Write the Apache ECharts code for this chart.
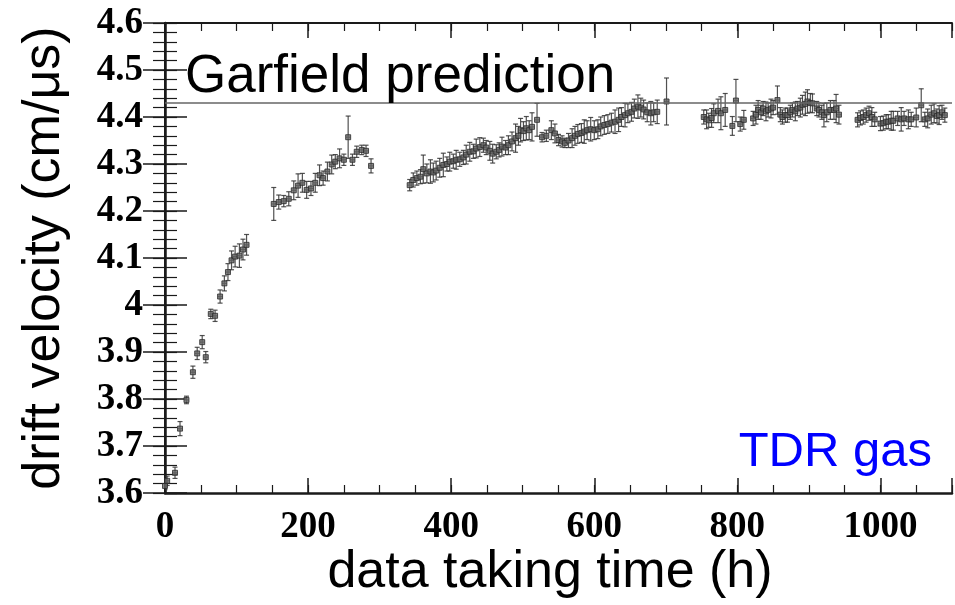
<!DOCTYPE html>
<html>
<head>
<meta charset="utf-8">
<script src="https://cdn.jsdelivr.net/npm/echarts@6/dist/echarts.min.js"></script>
<style>html,body{margin:0;padding:0;background:#fff}#chart{width:955px;height:605px}</style>
</head>
<body>
<div id="chart"></div>
<script>
// ---- data ----
const timeH = [
  0, 3, 14, 21, 30, 39, 45, 52, 57, 64, 70, 77, 83, 88, 93, 98, 104, 109, 114,
  152, 159, 166, 173, 180, 186, 192, 198, 204, 210, 216, 221, 227, 233, 238, 244, 250, 256, 262, 268, 275, 281, 288,
  342, 347, 352, 357, 361, 366, 371, 375, 379, 384, 389, 394, 398, 403, 407, 412, 417, 421, 426, 431, 435, 440, 445, 449,
  454, 458, 463, 467, 471, 476, 480, 485, 490, 494, 497, 501, 505, 509, 513, 520, 527, 533, 540, 545, 550, 555, 559, 564,
  569, 573, 577, 582, 586, 590, 595, 600, 605, 609, 614, 619, 624, 629, 634, 638, 643, 647, 652, 656, 661, 665, 669, 674,
  679, 683, 688, 701,
  753, 757, 760, 764, 767, 773, 777, 783, 793, 798, 804, 809, 822, 826, 829, 833, 836, 840, 843, 847, 850, 856, 860, 863,
  867, 870, 874, 877, 881, 884, 888, 891, 895, 898, 902, 905, 911, 914, 918, 921, 925, 930, 935, 938, 942,
  968, 972, 976, 980, 984, 988, 992, 1000, 1004, 1008, 1011, 1015, 1018, 1024, 1029, 1033, 1039, 1043, 1050, 1057, 1062,
  1066, 1071, 1075, 1079, 1082, 1086, 1090
];
const velocity = [
  3.615, 3.626, 3.643, 3.737, 3.798, 3.857, 3.897, 3.921, 3.889, 3.981, 3.977, 4.018, 4.046, 4.07, 4.095, 4.103, 4.105, 4.118, 4.128,
  4.215, 4.219, 4.221, 4.226, 4.244, 4.254, 4.26, 4.245, 4.248, 4.26, 4.276, 4.27, 4.284, 4.299, 4.305, 4.312, 4.309, 4.357, 4.309, 4.326, 4.33, 4.328, 4.296,
  4.255, 4.266, 4.27, 4.273, 4.289, 4.28, 4.284, 4.282, 4.286, 4.292, 4.298, 4.3, 4.305, 4.306, 4.309, 4.31, 4.314, 4.32, 4.326, 4.327, 4.333, 4.336, 4.34, 4.335,
  4.328, 4.322, 4.326, 4.33, 4.337, 4.335, 4.34, 4.348, 4.355, 4.36, 4.372, 4.37, 4.376, 4.372, 4.379, 4.394, 4.357, 4.36, 4.372, 4.365, 4.351, 4.348, 4.345, 4.35,
  4.355, 4.36, 4.364, 4.366, 4.369, 4.372, 4.374, 4.372, 4.374, 4.38, 4.383, 4.385, 4.388, 4.39, 4.394, 4.4, 4.404, 4.408, 4.411, 4.418, 4.422, 4.42, 4.416, 4.41,
  4.408, 4.41, 4.411, 4.433,
  4.4, 4.395, 4.393, 4.398, 4.408, 4.413, 4.408, 4.415, 4.381, 4.435, 4.385, 4.394, 4.397, 4.405, 4.415, 4.41, 4.418, 4.412, 4.415, 4.418, 4.42, 4.436, 4.405, 4.4,
  4.404, 4.404, 4.41, 4.415, 4.412, 4.418, 4.42, 4.426, 4.428, 4.433, 4.43, 4.429, 4.418, 4.415, 4.41, 4.404, 4.41, 4.415, 4.415, 4.418, 4.405,
  4.394, 4.398, 4.4, 4.404, 4.408, 4.4, 4.395, 4.386, 4.387, 4.39, 4.39, 4.392, 4.392, 4.397, 4.395, 4.397, 4.395, 4.395, 4.399, 4.425, 4.395,
  4.397, 4.405, 4.408, 4.402, 4.404, 4.41, 4.404
];
const velErr = [
  0.008, 0.01, 0.012, 0.015, 0.008, 0.013, 0.013, 0.014, 0.012, 0.01, 0.012, 0.014, 0.016, 0.018, 0.02, 0.022, 0.025, 0.022, 0.022,
  0.035, 0.015, 0.012, 0.015, 0.02, 0.025, 0.02, 0.018, 0.015, 0.02, 0.022, 0.015, 0.02, 0.02, 0.015, 0.02, 0.012, 0.045, 0.012, 0.012, 0.01, 0.012, 0.015,
  0.012, 0.015, 0.015, 0.015, 0.03, 0.02, 0.025, 0.02, 0.02, 0.02, 0.025, 0.015, 0.02, 0.015, 0.02, 0.015, 0.015, 0.02, 0.02, 0.015, 0.02, 0.02, 0.015, 0.015,
  0.02, 0.02, 0.015, 0.015, 0.02, 0.015, 0.02, 0.02, 0.03, 0.02, 0.025, 0.02, 0.025, 0.02, 0.03, 0.035, 0.01, 0.012, 0.02, 0.02, 0.012, 0.012, 0.01, 0.015,
  0.02, 0.02, 0.02, 0.02, 0.025, 0.02, 0.025, 0.02, 0.02, 0.02, 0.02, 0.02, 0.02, 0.025, 0.025, 0.02, 0.025, 0.02, 0.02, 0.02, 0.025, 0.02, 0.02, 0.02,
  0.025, 0.02, 0.025, 0.05,
  0.015, 0.02, 0.015, 0.02, 0.02, 0.025, 0.035, 0.035, 0.02, 0.045, 0.015, 0.02, 0.015, 0.02, 0.02, 0.015, 0.015, 0.02, 0.015, 0.02, 0.015, 0.03, 0.015, 0.015,
  0.015, 0.015, 0.015, 0.015, 0.02, 0.015, 0.02, 0.02, 0.025, 0.025, 0.02, 0.02, 0.015, 0.015, 0.015, 0.025, 0.02, 0.02, 0.02, 0.03, 0.02,
  0.015, 0.015, 0.015, 0.015, 0.015, 0.02, 0.015, 0.015, 0.015, 0.015, 0.015, 0.02, 0.02, 0.015, 0.025, 0.015, 0.02, 0.015, 0.02, 0.035, 0.015,
  0.02, 0.02, 0.02, 0.015, 0.02, 0.015, 0.015
];
const timeErrH = 3;          // half-width of each time bin (h)
const garfieldPrediction = 4.429;
const xTicks = [0, 200, 400, 600, 800, 1000];
const yTicks = [3.6, 3.7, 3.8, 3.9, 4.0, 4.1, 4.2, 4.3, 4.4, 4.5, 4.6];

// ---- chart ----
const points = timeH.map((t, i) => [t, velocity[i], velErr[i], timeErrH]);
const chart = echarts.init(document.getElementById('chart'), null, {renderer: 'canvas'});
const tickFont = {fontFamily: '"Liberation Serif", serif', fontWeight: 'bold', fontSize: 37, color: '#000'};
const ink = '#1a1a1a';

const xBase = {type: 'value', min: 0, max: 1100, gridIndex: 0, splitLine: {show: false}};
const yBase = {type: 'value', min: 3.6, max: 4.6, splitLine: {show: false}};
const noLine = {show: false};

chart.setOption({
  animation: false,
  backgroundColor: '#fff',
  grid: {left: 165, top: 23, width: 796, height: 470},
  xAxis: [
    Object.assign({}, xBase, {position: 'bottom', interval: 200,
      axisLine: {show: true, lineStyle: {color: ink, width: 2.5}},
      axisTick: {show: true, inside: true, length: 15, lineStyle: {color: ink, width: 1.5}},
      axisLabel: Object.assign({margin: 16, formatter: v => xTicks.includes(v) ? String(v) : ''}, tickFont)}),
    Object.assign({}, xBase, {position: 'bottom', interval: 50,
      axisLine: noLine, axisLabel: {show: false},
      axisTick: {show: true, inside: true, length: 8, lineStyle: {color: ink, width: 1.2}}}),
    Object.assign({}, xBase, {position: 'top', interval: 200,
      axisLine: {show: true, lineStyle: {color: ink, width: 2}}, axisLabel: {show: false},
      axisTick: {show: true, inside: true, length: 15, lineStyle: {color: ink, width: 1.5}}}),
    Object.assign({}, xBase, {position: 'top', interval: 50,
      axisLine: noLine, axisLabel: {show: false},
      axisTick: {show: true, inside: true, length: 8, lineStyle: {color: ink, width: 1.2}}})
  ],
  yAxis: [
    Object.assign({}, yBase, {position: 'left', interval: 0.1,
      axisLine: {show: true, lineStyle: {color: ink, width: 2.5}},
      axisTick: {show: true, inside: true, length: 22, lineStyle: {color: ink, width: 1.5}},
      axisLabel: Object.assign({margin: 22, formatter: v => {
        const r = Math.round(v * 10) / 10; return yTicks.some(t => Math.abs(t - r) < 1e-9) ? String(r) : '';
      }}, tickFont)}),
    Object.assign({}, yBase, {position: 'left', interval: 0.02,
      axisLine: noLine, axisLabel: {show: false},
      axisTick: {show: true, inside: true, length: 12, lineStyle: {color: ink, width: 1.2}}}),
    Object.assign({}, yBase, {position: 'right', interval: 0.1,
      axisLine: {show: true, lineStyle: {color: ink, width: 2}}, axisLabel: {show: false},
      axisTick: {show: true, inside: true, length: 22, lineStyle: {color: ink, width: 1.5}}}),
    Object.assign({}, yBase, {position: 'right', interval: 0.02,
      axisLine: noLine, axisLabel: {show: false},
      axisTick: {show: true, inside: true, length: 12, lineStyle: {color: ink, width: 1.2}}})
  ],
  series: [
    {
      type: 'custom',
      xAxisIndex: 0, yAxisIndex: 0,
      clip: true,
      data: points,
      renderItem: function (params, api) {
        const x = api.value(0), y = api.value(1), ey = api.value(2), ex = api.value(3);
        const top = api.coord([x, y + ey]);
        const bot = api.coord([x, y - ey]);
        const left = api.coord([x - ex, y]);
        const right = api.coord([x + ex, y]);
        const cap = 2.5;
        const st = {stroke: '#333', lineWidth: 1.2, opacity: 0.85};
        return {
          type: 'group',
          children: [
            {type: 'line', shape: {x1: top[0], y1: top[1], x2: bot[0], y2: bot[1]}, style: st},
            {type: 'line', shape: {x1: top[0] - cap, y1: top[1], x2: top[0] + cap, y2: top[1]}, style: st},
            {type: 'line', shape: {x1: bot[0] - cap, y1: bot[1], x2: bot[0] + cap, y2: bot[1]}, style: st},
            {type: 'line', shape: {x1: left[0], y1: left[1], x2: right[0], y2: right[1]}, style: st}
          ]
        };
      },
      z: 2
    },
    {
      type: 'scatter',
      xAxisIndex: 0, yAxisIndex: 0,
      data: points.map(p => [p[0], p[1]]),
      symbol: 'rect',
      symbolSize: 5,
      itemStyle: {color: '#666', borderColor: '#2a2a2a', borderWidth: 1},
      z: 3,
      markLine: {
        silent: true,
        symbol: ['none', 'none'],
        label: {show: false},
        lineStyle: {color: '#666', width: 1.6, type: 'solid'},
        data: [{yAxis: garfieldPrediction}]
      }
    }
  ],
  graphic: [
    {type: 'text', x: 185, y: 77, z: 10,
      style: {text: 'Garfield prediction', font: '53px "Liberation Sans", Arial, sans-serif', fill: '#000', textAlign: 'left', textVerticalAlign: 'middle'}},
    {type: 'text', x: 932, y: 452, z: 10,
      style: {text: 'TDR gas', font: '49px "Liberation Sans", Arial, sans-serif', fill: '#0000ff', textAlign: 'right', textVerticalAlign: 'middle'}},
    {type: 'text', x: 550, y: 573, z: 10,
      style: {text: 'data taking time (h)', font: '52px "Liberation Sans", Arial, sans-serif', fill: '#000', textAlign: 'center', textVerticalAlign: 'middle'}},
    {type: 'text', x: 45, y: 258, rotation: Math.PI / 2, z: 10,
      style: {text: 'drift velocity (cm/μs)', font: '52px "Liberation Sans", Arial, sans-serif', fill: '#000', textAlign: 'center', textVerticalAlign: 'middle'}}
  ]
});
</script>
</body>
</html>
